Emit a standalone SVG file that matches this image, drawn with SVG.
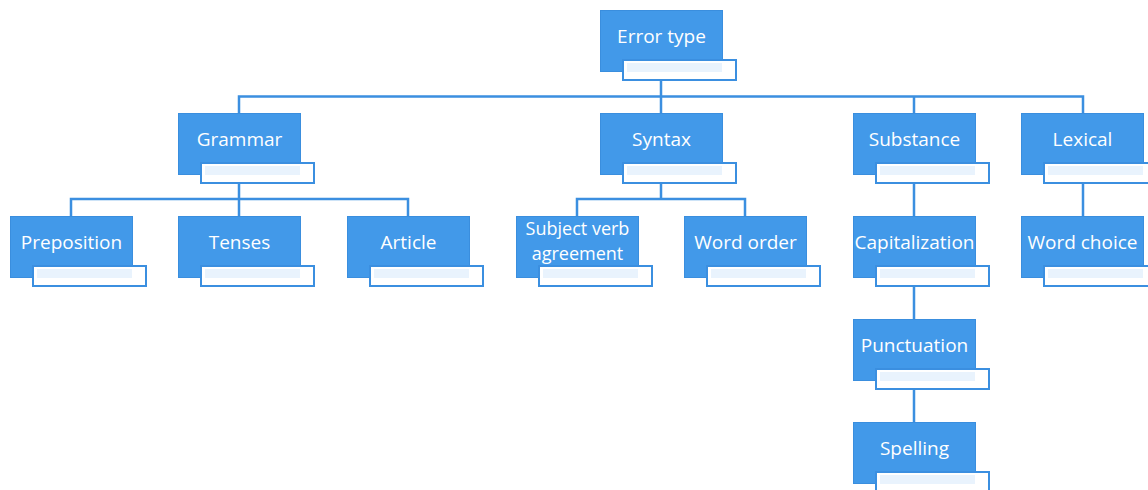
<svg xmlns="http://www.w3.org/2000/svg" width="1148" height="490" viewBox="0 0 1148 490">
  <defs>
    <style>
      .box { fill: #4299e9; stroke: #3a8ede; stroke-width: 1; }
      .tab { fill: #ffffff; stroke: #3b8fe0; stroke-width: 2; }
      .tint { fill: #e9f3fd; }
      .lbl { font-family: "Open Sans", "Noto Sans", sans-serif; font-size: 19px; fill: #ffffff; text-anchor: middle; }
      .lbl2 { font-size: 18px; }
      .wire { fill: none; stroke: #3b8fe0; stroke-width: 2.5; }
    </style>
    <!-- one node: blue card plus offset white tab -->
    <g id="card">
      <rect class="box" x="0.5" y="0.5" width="122" height="61"/>
      <rect class="tab" x="23" y="50" width="113" height="20"/>
      <rect class="tint" x="27" y="53" width="95" height="9"/>
    </g>
  </defs>

  <rect width="1148" height="490" fill="#ffffff"/>

  <g id="connectors">
    <!-- root to first level -->
    <path class="wire" d="M661 81 V96.5 M239 113 V96.5 H1083 V113 M661 96.5 V113 M914 96.5 V113"/>
    <!-- Grammar children -->
    <path class="wire" d="M239 183 V199 M71 216 V199 H408 V216 M239 199 V216"/>
    <!-- Syntax children -->
    <path class="wire" d="M661 183 V199 M577 216 V199 H745 V216"/>
    <!-- Substance chain -->
    <path class="wire" d="M914 183 V216 M914 287 V319 M914 389 V422"/>
    <!-- Lexical child -->
    <path class="wire" d="M1083 183 V216"/>
  </g>

  <g id="n-error-type" transform="translate(600,10)">
    <use href="#card"/><text class="lbl" x="61.5" y="33">Error type</text>
  </g>
  <g id="n-grammar" transform="translate(178,113)">
    <use href="#card"/><text class="lbl" x="61.5" y="33">Grammar</text>
  </g>
  <g id="n-syntax" transform="translate(600,113)">
    <use href="#card"/><text class="lbl" x="61.5" y="33">Syntax</text>
  </g>
  <g id="n-substance" transform="translate(853,113)">
    <use href="#card"/><text class="lbl" x="61.5" y="33">Substance</text>
  </g>
  <g id="n-lexical" transform="translate(1021,113)">
    <use href="#card"/><text class="lbl" x="61.5" y="33">Lexical</text>
  </g>
  <g id="n-preposition" transform="translate(10,216)">
    <use href="#card"/><text class="lbl" x="61.5" y="33">Preposition</text>
  </g>
  <g id="n-tenses" transform="translate(178,216)">
    <use href="#card"/><text class="lbl" x="61.5" y="33">Tenses</text>
  </g>
  <g id="n-article" transform="translate(347,216)">
    <use href="#card"/><text class="lbl" x="61.5" y="33">Article</text>
  </g>
  <g id="n-subject-verb" transform="translate(516,216)">
    <use href="#card"/>
    <text class="lbl lbl2" x="61.5" y="19">Subject verb</text>
    <text class="lbl lbl2" x="61.5" y="44">agreement</text>
  </g>
  <g id="n-word-order" transform="translate(684,216)">
    <use href="#card"/><text class="lbl" x="61.5" y="33">Word order</text>
  </g>
  <g id="n-capitalization" transform="translate(853,216)">
    <use href="#card"/><text class="lbl" x="61.5" y="33">Capitalization</text>
  </g>
  <g id="n-word-choice" transform="translate(1021,216)">
    <use href="#card"/><text class="lbl" x="61.5" y="33">Word choice</text>
  </g>
  <g id="n-punctuation" transform="translate(853,319)">
    <use href="#card"/><text class="lbl" x="61.5" y="33">Punctuation</text>
  </g>
  <g id="n-spelling" transform="translate(853,422)">
    <use href="#card"/><text class="lbl" x="61.5" y="33">Spelling</text>
  </g>
</svg>
